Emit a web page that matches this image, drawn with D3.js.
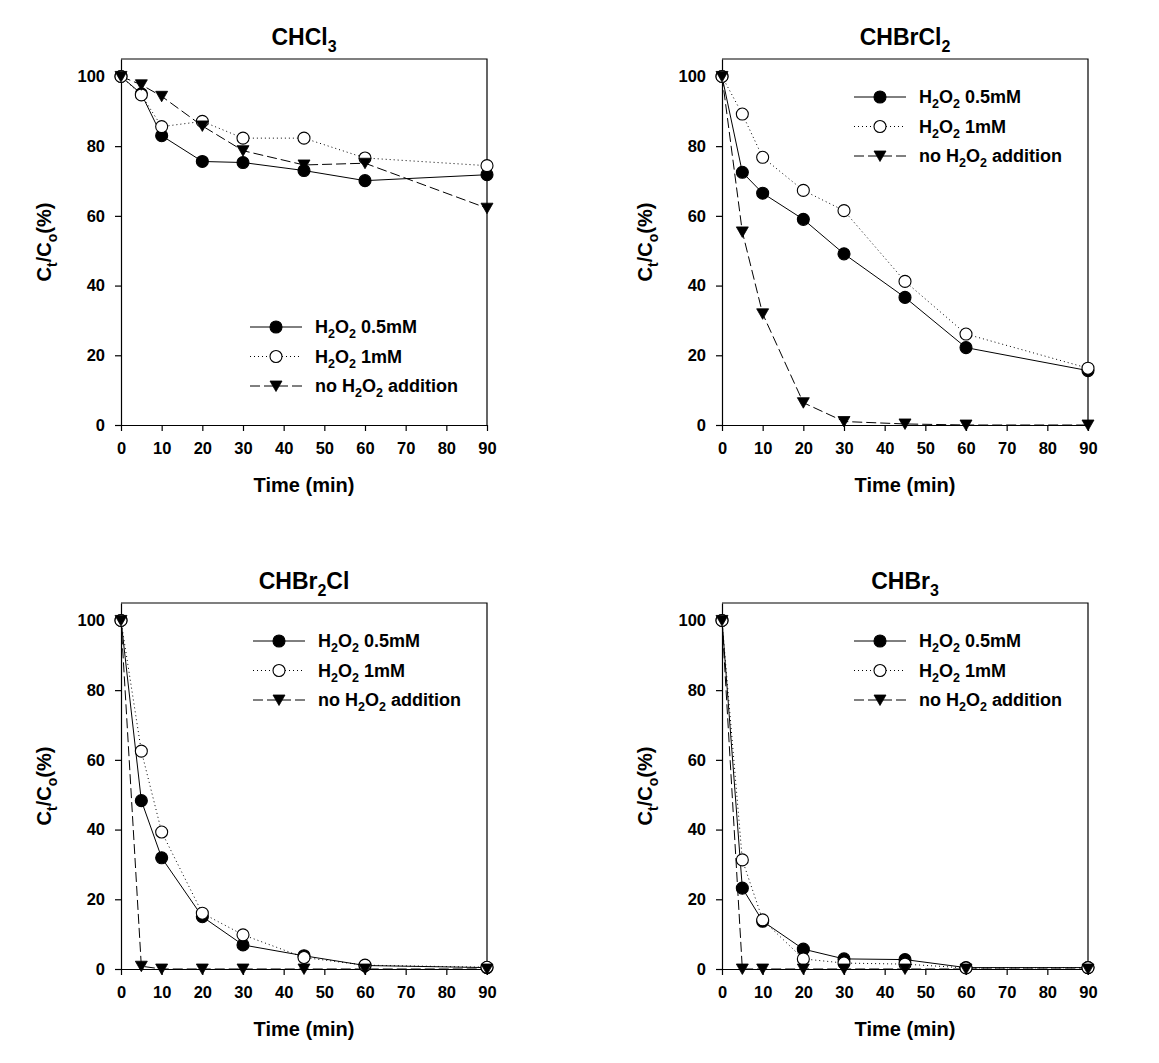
<!DOCTYPE html>
<html><head><meta charset="utf-8">
<script src="https://cdn.jsdelivr.net/npm/d3@7"></script>
<style>
html,body{margin:0;padding:0;background:#fff;}
text{font-family:"Liberation Sans",Arial,sans-serif;font-weight:bold;fill:#000;}
</style></head>
<body>
<svg id="chart" width="1159" height="1063"></svg>
<script>
// ---- data ----
const times = [0, 5, 10, 20, 30, 45, 60, 90];
const xTicks = [0, 10, 20, 30, 40, 50, 60, 70, 80, 90];
const yTicks = [0, 20, 40, 60, 80, 100];
const seriesNames = ["0.5mM", "1mM", "none"];

const chcl3_05 = [100, 95, 83.0, 75.6, 75.3, 73.0, 70.1, 71.8];
const chcl3_1  = [100, 94.7, 85.6, 87.1, 82.3, 82.3, 76.6, 74.4];
const chcl3_0  = [100, 97.6, 94.3, 85.8, 78.7, 74.6, 75.1, 62.2];

const chbrcl2_05 = [100, 72.5, 66.5, 59.0, 49.1, 36.6, 22.2, 15.6];
const chbrcl2_1  = [100, 89.2, 76.8, 67.3, 61.5, 41.2, 26.1, 16.3];
const chbrcl2_0  = [100, 55.4, 31.9, 6.4, 1.0, 0.3, 0, 0];

const chbr2cl_05 = [100, 48.3, 31.9, 15.0, 6.9, 3.8, 1.0, 0.4];
const chbr2cl_1  = [100, 62.5, 39.3, 16.0, 9.8, 3.3, 1.1, 0.5];
const chbr2cl_0  = [100, 0.8, 0, 0, 0, 0, 0, 0];

const chbr3_05 = [100, 23.2, 13.7, 5.7, 2.9, 2.7, 0.4, 0.4];
const chbr3_1  = [100, 31.3, 14.1, 2.9, 1.7, 1.4, 0.3, 0.4];
const chbr3_0  = [100, 0, 0, 0, 0, 0, 0, 0];

const titles = [["CHCl", "3", ""], ["CHBrCl", "2", ""], ["CHBr", "2", "Cl"], ["CHBr", "3", ""]];
const panelData = [
  [chcl3_05, chcl3_1, chcl3_0],
  [chbrcl2_05, chbrcl2_1, chbrcl2_0],
  [chbr2cl_05, chbr2cl_1, chbr2cl_0],
  [chbr3_05, chbr3_1, chbr3_0]
];
const legendLabels = [["H","2","O","2"," 0.5mM"], ["H","2","O","2"," 1mM"], ["no H","2","O","2"," addition"]];

// ---- layout ----
const W = 366, H = 366;
const origins = [[121, 59], [722, 59], [121, 603], [722, 603]];
const legendPos = [[129, 268], [132, 38], [132, 38], [132, 38]];
const styles = [
  {dash: null, marker: "circle", fill: "#000"},
  {dash: "1,3", marker: "circle", fill: "#fff"},
  {dash: "10,4", marker: "tri", fill: "#000"}
];

const svg = d3.select("#chart");
const x = d3.scaleLinear().domain([0, 90]).range([0, W]);
const y = d3.scaleLinear().domain([0, 105]).range([H, 0]);
const triPath = "M-6,-5L6,-5L0,5.5Z";

function drawMarker(g, st, cx, cy) {
  if (st.marker === "circle") {
    g.append("circle").attr("cx", cx).attr("cy", cy).attr("r", 6)
      .attr("fill", st.fill).attr("stroke", "#000").attr("stroke-width", 1.1);
  } else {
    g.append("path").attr("d", triPath).attr("transform", `translate(${cx},${cy})`)
      .attr("fill", "#000").attr("stroke", "#000").attr("stroke-width", 0.8);
  }
}

function subText(sel, parts, subSize, shift) {
  parts.forEach((p, i) => {
    if (p === "") return;
    const isSub = i % 2 === 1;
    const t = sel.append("tspan").text(p);
    if (isSub) t.attr("font-size", subSize).attr("dy", shift);
    else if (i > 0) t.attr("dy", -shift);
  });
}

panelData.forEach((series, pi) => {
  const [ox, oy] = origins[pi];
  const g = svg.append("g").attr("transform", `translate(${ox},${oy})`);

  // frame (top & right)
  g.append("path").attr("d", `M0,0H${W}V${H}`).attr("fill", "none").attr("stroke", "#000").attr("stroke-width", 1.2);

  const xa = g.append("g").attr("transform", `translate(0,${H})`)
    .call(d3.axisBottom(x).tickValues(xTicks).tickSize(6).tickSizeOuter(0).tickPadding(11).tickFormat(d3.format("d")));
  const ya = g.append("g")
    .call(d3.axisLeft(y).tickValues(yTicks).tickSize(6).tickSizeOuter(0).tickPadding(10).tickFormat(d3.format("d")));
  [xa, ya].forEach(a => {
    a.selectAll("path,line").attr("stroke", "#000").attr("stroke-width", 1.2);
    a.selectAll("text").attr("font-size", 16.5).attr("font-family", '"Liberation Sans",Arial,sans-serif').attr("font-weight", "bold");
  });

  // title
  const tt = g.append("text").attr("x", W / 2).attr("y", -14).attr("text-anchor", "middle").attr("font-size", 23);
  subText(tt, titles[pi], 16, 7);

  // x label
  g.append("text").attr("x", W / 2).attr("y", H + 67).attr("text-anchor", "middle").attr("font-size", 20).text("Time (min)");

  // y label
  const yl = g.append("text").attr("transform", `translate(-70,${H / 2}) rotate(-90)`).attr("text-anchor", "middle").attr("font-size", 20);
  subText(yl, ["C", "t", "/C", "o", "(%)"], 14, 6);

  // series
  const line = d3.line().x((d, i) => x(times[i])).y(d => y(d));
  series.forEach((vals, si) => {
    const st = styles[si];
    g.append("path").datum(vals).attr("d", line).attr("fill", "none")
      .attr("stroke", "#000").attr("stroke-width", 1)
      .attr("stroke-dasharray", st.dash);
  });
  series.forEach((vals, si) => {
    const st = styles[si];
    const mg = g.append("g");
    vals.forEach((v, i) => drawMarker(mg, st, x(times[i]), y(v)));
  });

  // legend
  const [lx, ly] = legendPos[pi];
  legendLabels.forEach((lab, li) => {
    const st = styles[li];
    const ry = ly + li * 29.5;
    g.append("line").attr("x1", lx).attr("x2", lx + 52).attr("y1", ry).attr("y2", ry)
      .attr("stroke", "#000").attr("stroke-width", 1).attr("stroke-dasharray", st.dash);
    drawMarker(g, st, lx + 26, ry);
    const t = g.append("text").attr("x", lx + 65).attr("y", ry + 6).attr("font-size", 18);
    subText(t, lab, 12.5, 5);
  });
});
</script>
</body></html>
